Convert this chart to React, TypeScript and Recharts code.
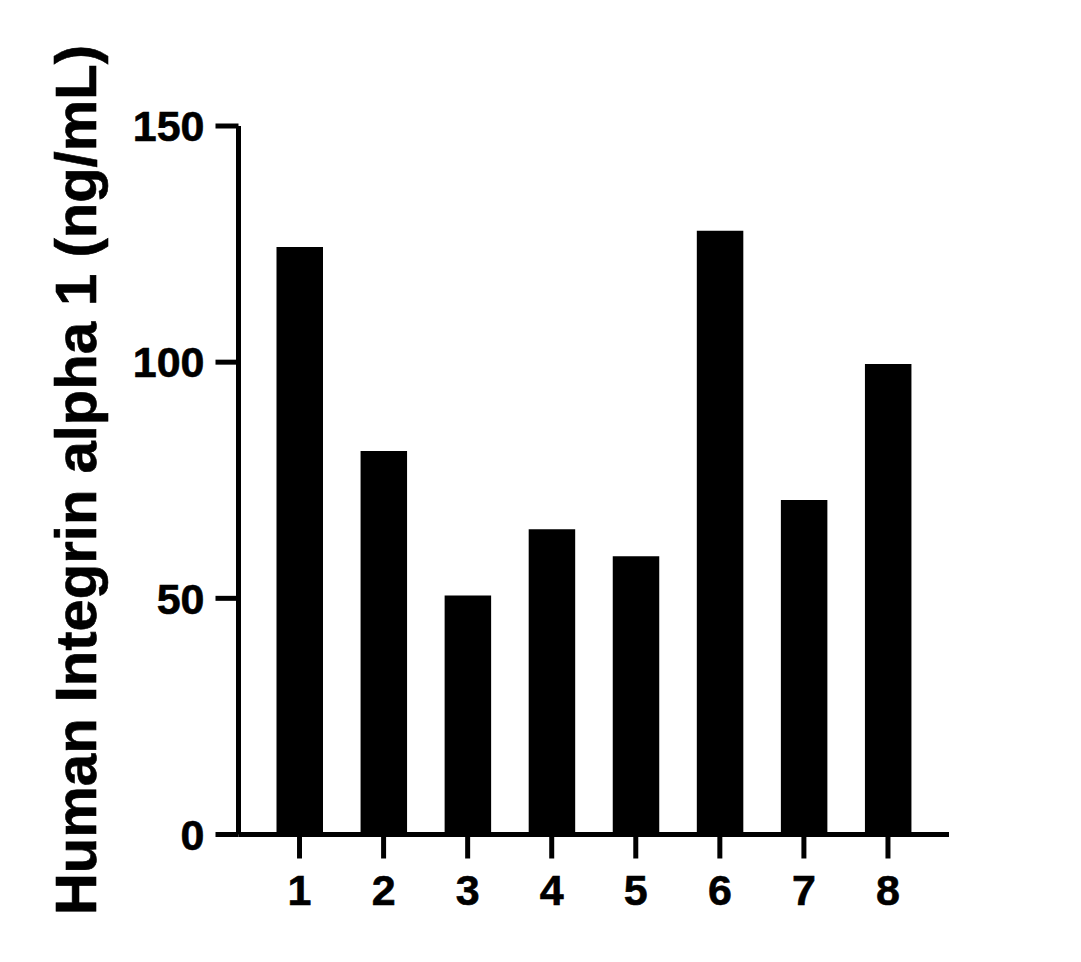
import { BarChart, Bar, XAxis, YAxis } from "recharts";

const SAMPLES = ["1", "2", "3", "4", "5", "6", "7", "8"];
const CONCENTRATIONS = [124.4, 81.2, 50.6, 64.6, 58.9, 127.8, 70.8, 99.6];
const Y_TICKS = [0, 50, 100, 150];
const Y_LABEL = "Human Integrin alpha 1 (ng/mL)";

const FONT = "'Liberation Sans', Arial, Helvetica, sans-serif";

const data = SAMPLES.map((name, i) => ({ name, value: CONCENTRATIONS[i] }));

const tickStyle = {
  fontFamily: FONT,
  fontWeight: 700,
  fontSize: 43,
  fill: "#000",
  stroke: "#000",
  strokeWidth: 0.6,
};

const lineStyle = { stroke: "#000", strokeWidth: 5 };

function YLabel() {
  return (
    <text
      x={96}
      y={480}
      transform="rotate(-90 96 480)"
      textAnchor="middle"
      fontFamily={FONT}
      fontWeight={700}
      fontSize={58}
      fill="#000"
      stroke="#000"
      strokeWidth={0.6}
    >
      {Y_LABEL}
    </text>
  );
}

export default function App() {
  return (
    <div style={{ position: "absolute", left: 0, top: 0, background: "#fff" }}>
      <BarChart
        width={1081}
        height={962}
        data={data}
        margin={{ top: 126, right: 132, bottom: 0, left: 0 }}
      >
        <XAxis
          dataKey="name"
          height={127.5}
          padding={{ left: 19, right: 19 }}
          stroke="#000"
          strokeWidth={5}
          axisLine={lineStyle}
          tickLine={lineStyle}
          tickSize={24}
          tickMargin={16}
          tick={tickStyle}
        />
        <YAxis
          width={238.5}
          domain={[0, 150]}
          ticks={Y_TICKS}
          allowDataOverflow
          stroke="#000"
          strokeWidth={5}
          axisLine={lineStyle}
          tickLine={lineStyle}
          tickSize={23}
          tickMargin={11}
          tick={tickStyle}
          label={{ content: () => <YLabel /> }}
        />
        <Bar dataKey="value" fill="#000" barSize={46.5} isAnimationActive={false} />
      </BarChart>
    </div>
  );
}
